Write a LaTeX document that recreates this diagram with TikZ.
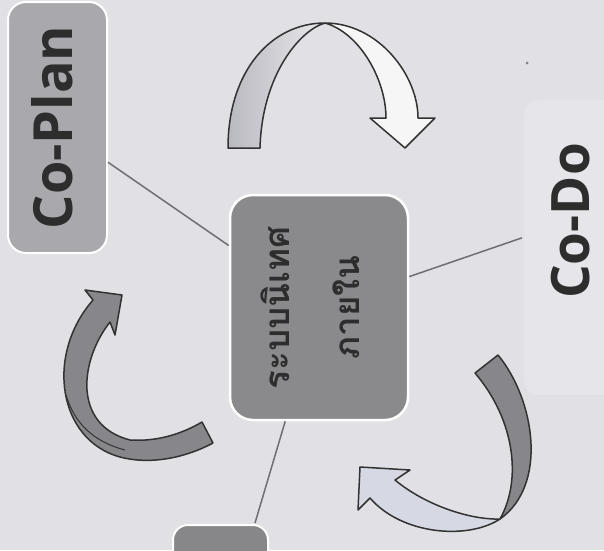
\documentclass[tikz,border=0pt]{standalone}
\usepackage{fontspec}
\newfontfamily\labfont{Open Sans}
\newfontfamily\thaifont[Script=Thai]{Loma}
\definecolor{bg}{RGB}{224,224,229}
\definecolor{dobg}{RGB}{230,230,234}
\definecolor{planfill}{RGB}{168,168,173}
\definecolor{centfill}{RGB}{138,138,141}
\definecolor{ckfill}{RGB}{135,135,138}
\definecolor{txt}{RGB}{45,45,45}
\definecolor{conn}{RGB}{110,110,116}
\definecolor{outl}{RGB}{50,50,50}
\definecolor{arrdark}{RGB}{135,135,139}
\definecolor{arrlight}{RGB}{214,217,227}
\definecolor{arrwhite}{RGB}{246,246,246}
\begin{document}
\begin{tikzpicture}[x=1pt,y=-1pt,
  box/.style={draw=white, line width=2pt, rounded corners=18pt},
  lab/.style={font=\labfont\bfseries\fontsize{54}{60}\selectfont, text=txt},
  conline/.style={draw=conn, line width=1.5pt},
  arrline/.style={draw=outl, line width=1.5pt, line join=round}]
\useasboundingbox (0,0) rectangle (604,550);
\clip (0,0) rectangle (604,550);
\fill[bg] (0,0) rectangle (604,550);
% faint Co-Do box
\fill[dobg, rounded corners=15pt] (524,100) rectangle (650,395);
\fill[gray] (527,63) circle (1.5pt);
% boxes
\node[box, fill=planfill, rotate=90, minimum width=251pt, minimum height=99pt,
      lab, text height=41pt, text depth=12pt, inner sep=0pt] (plan) at (57.5,127.5) {Co-Plan};
\node[box, fill=centfill, line width=2.5pt, rounded corners=23pt,
      minimum width=178pt, minimum height=225pt] (center) at (319,307.5) {};
\node[rotate=90, align=center, text=txt, inner sep=0pt,
      font=\thaifont\bfseries\fontsize{35}{70}\selectfont] (centertxt) at ([xshift=-9pt]center) {ระบบนิเทศ\\ภายใน};
\node[rotate=90, lab, font=\labfont\bfseries\fontsize{53}{60}\selectfont, inner sep=3pt] (do) at (571,221) {Co-Do};
\node[box, fill=ckfill, rounded corners=15pt, minimum width=95pt, minimum height=70pt] (check) at (220.5,560) {};
\coordinate (chktop) at (255,523);
% connectors
\draw[conline] (plan) -- (center);
\draw[conline, shorten >=28pt] (center) -- (do);
\draw[conline] (center) -- (chktop);
% top arrow
\shade[left color={rgb,255:red,185;green,185;blue,192}, right color={rgb,255:red,232;green,232;blue,236}]
  (228,148) .. controls (228,70) and (272,23) .. (325,23) .. controls (300,30) and (262,75) .. (260,148) -- cycle;
\draw[arrline] (228,148) .. controls (228,70) and (272,23) .. (325,23) .. controls (300,30) and (262,75) .. (260,148) -- cycle;
\filldraw[arrline, fill=arrwhite] (325,23) .. controls (378,23) and (418,75) .. (418,118) -- (435,118) -- (405,148)
  -- (370,118) -- (386,118) .. controls (386,80) and (360,33) .. (325,23) -- cycle;
% right arrow
\filldraw[arrline, fill=arrdark] (498,355) .. controls (535,400) and (548,485) .. (500,519)
  .. controls (522,480) and (515,420) .. (475,373) -- cycle;
\filldraw[arrline, fill=arrlight] (500,519) .. controls (468,540) and (402,535) .. (370,498) -- (358,510) -- (360,467)
  -- (410,470) -- (395,480) .. controls (425,505) and (470,520) .. (500,519) -- cycle;
% left arrow
\filldraw[arrline, fill=arrdark] (122,295) -- (115,335) -- (110,322) .. controls (80,360) and (72,425) .. (130,440)
  .. controls (160,442) and (185,432) .. (202,422) -- (213,443) .. controls (185,458) and (150,465) .. (120,457)
  .. controls (58,440) and (45,355) .. (93,300) -- (85,290) -- cycle;
\draw[arrline, line width=1pt] (66,395) .. controls (75,425) and (95,442) .. (125,450);
\end{tikzpicture}
\end{document}
